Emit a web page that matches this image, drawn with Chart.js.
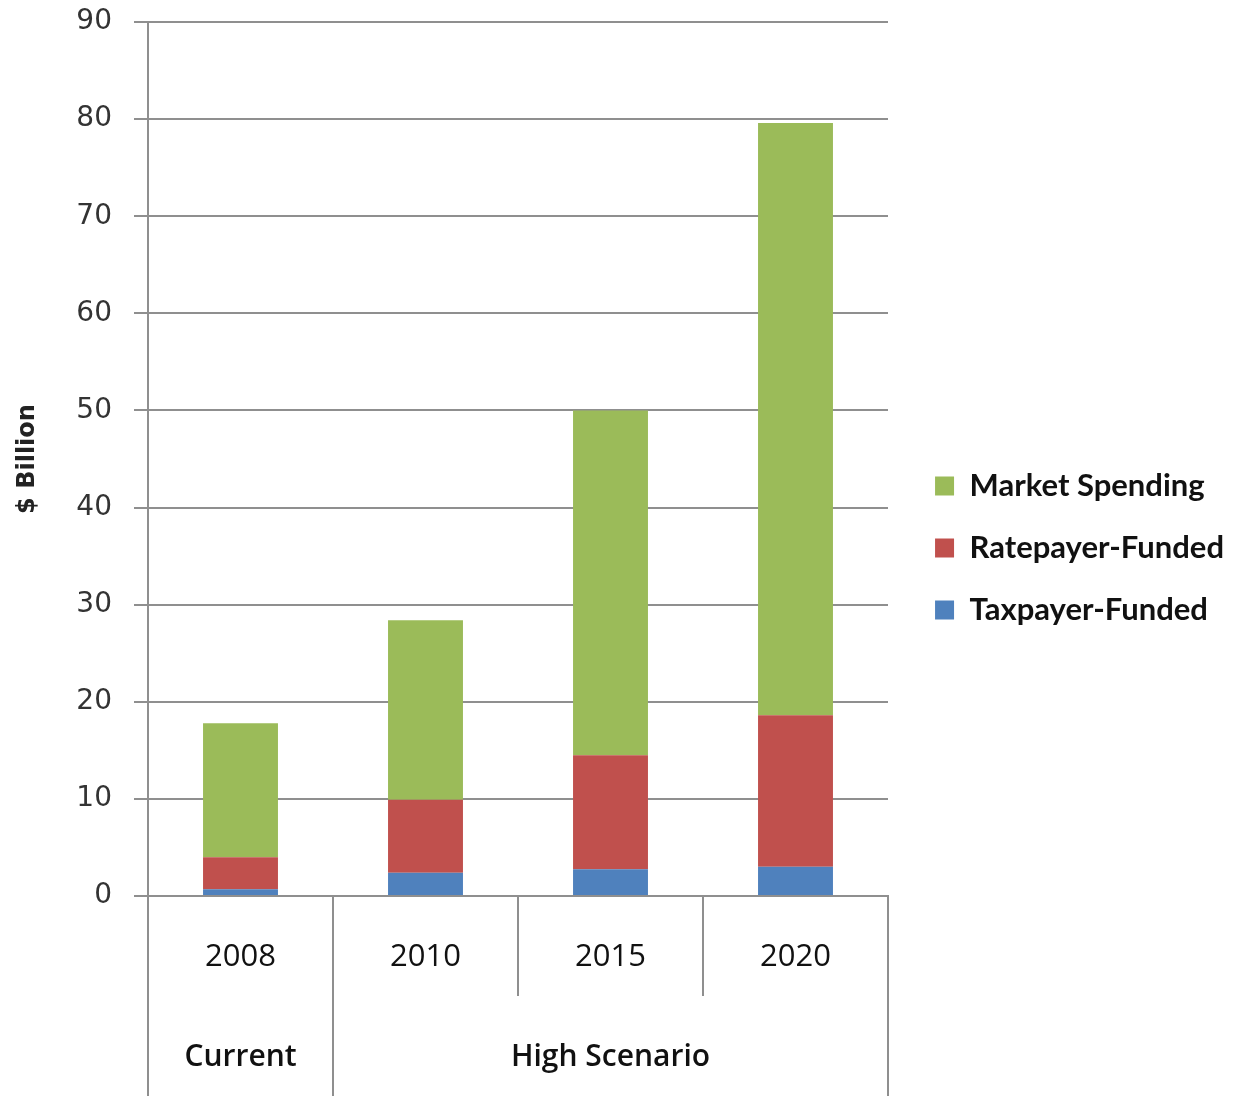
<!DOCTYPE html>
<html>
<head>
<meta charset="utf-8">
<title>Energy efficiency spending</title>
<script src="https://cdn.jsdelivr.net/npm/chart.js@4.4.1/dist/chart.umd.min.js"></script>
<style>
  html, body { margin: 0; padding: 0; background: #ffffff; }
  #wrap { width: 1234px; height: 1096px; }
</style>
</head>
<body>
<div id="wrap"><canvas id="chart" width="1234" height="1096"></canvas></div>
<script>
// Categories and their grouping on the lower axis row
const categories = ['2008', '2010', '2015', '2020'];
const groupLabels = ['Current', 'High Scenario'];
const groupSizes = [1, 3];

// Spending by funding source, $ billion (stacked bottom to top)
const taxpayerFunded = [0.7, 2.4, 2.75, 3.0];
const ratepayerFunded = [3.3, 7.5, 11.75, 15.6];
const marketSpending = [13.8, 18.5, 35.5, 61.0];

// Value axis
const yMin = 0;
const yMax = 90;
const yStep = 10;

const AXIS_COLOR = '#8f8f8f';
const TICK_DROP = 100;       // length of the category separators below the axis
const CAT_FONT = { family: "'Open Sans', sans-serif", size: 31 };
const GROUP_FONT = "600 30px 'Open Sans', sans-serif";
const PLOT_TOP = 22;
const PLOT_RIGHT = 888;
const PAD_RIGHT = 0;

// Draws the second row of the category axis: group separators and group names
const groupAxis = {
  id: 'groupAxis',
  afterDraw(chart) {
    const x = chart.scales.x;
    const ctx = chart.ctx;
    const step = (x.right - x.left) / categories.length;
    const edges = [x.getPixelForValue(0) - step / 2];
    let idx = 0;
    groupSizes.forEach(size => {
      idx += size;
      edges.push(x.getPixelForValue(idx - 1) + step / 2);
    });
    ctx.save();
    ctx.strokeStyle = AXIS_COLOR;
    ctx.lineWidth = 2;
    edges.forEach(px => {
      ctx.beginPath();
      ctx.moveTo(px, x.top + TICK_DROP - 1);
      ctx.lineTo(px, chart.height);
      ctx.stroke();
    });
    ctx.fillStyle = '#111111';
    ctx.font = GROUP_FONT;
    ctx.textAlign = 'center';
    ctx.textBaseline = 'middle';
    groupLabels.forEach((label, i) => {
      ctx.fillText(label, (edges[i] + edges[i + 1]) / 2, x.top + 161);
    });
    ctx.restore();
  }
};

new Chart(document.getElementById('chart'), {
  type: 'bar',
  data: {
    labels: categories,
    datasets: [
      { label: 'Taxpayer-Funded', data: taxpayerFunded, backgroundColor: '#4F81BD' },
      { label: 'Ratepayer-Funded', data: ratepayerFunded, backgroundColor: '#C0504D' },
      { label: 'Market Spending', data: marketSpending, backgroundColor: '#9BBB59' }
    ]
  },
  options: {
    responsive: false,
    animation: false,
    devicePixelRatio: 1,
    layout: { padding: { top: 0, right: PAD_RIGHT, bottom: 0, left: 0 } },
    datasets: { bar: { barPercentage: 0.405, categoryPercentage: 1 } },
    plugins: {
      legend: {
        position: 'right',
        align: 'center',
        reverse: true,
        maxWidth: 420,
        labels: {
          boxWidth: 19,
          boxHeight: 19,
          padding: 31,
          color: '#111111',
          font: { family: "Lato, sans-serif", size: 31, weight: 'bold' }
        }
      },
      tooltip: { enabled: false }
    },
    scales: {
      x: {
        stacked: true,
        grid: { offset: true, drawOnChartArea: false, tickLength: TICK_DROP, color: AXIS_COLOR, lineWidth: 2 },
        border: { color: AXIS_COLOR, width: 2 },
        ticks: { font: CAT_FONT, color: '#111111', padding: -57 },
        afterFit(scale) { scale.height = 200; }
      },
      y: {
        stacked: true,
        min: yMin,
        max: yMax,
        ticks: {
          stepSize: yStep,
          font: { family: "'DejaVu Sans', sans-serif", size: 28 },
          color: '#333333',
          padding: 22
        },
        grid: { color: AXIS_COLOR, lineWidth: 2, tickLength: 14 },
        border: { color: AXIS_COLOR, width: 2 },
        title: {
          display: true,
          text: '$ Billion',
          color: '#222222',
          font: { family: "'DejaVu Sans', sans-serif", size: 24, weight: 'bold' },
          padding: { top: 13, bottom: 0 }
        },
        afterFit(scale) {
          scale.width = 148;
          scale.paddingTop = PLOT_TOP;
          scale.paddingBottom = 0;
        }
      },
      gap: {
        type: 'linear',
        position: 'right',
        display: true,
        grid: { display: false },
        border: { display: false },
        ticks: { display: false },
        afterFit(scale) {
          const legendWidth = scale.chart.legend ? scale.chart.legend.width : 0;
          scale.width = Math.max(0, scale.chart.width - PAD_RIGHT - legendWidth - PLOT_RIGHT);
        }
      }
    }
  },
  plugins: [groupAxis]
});
</script>
</body>
</html>
